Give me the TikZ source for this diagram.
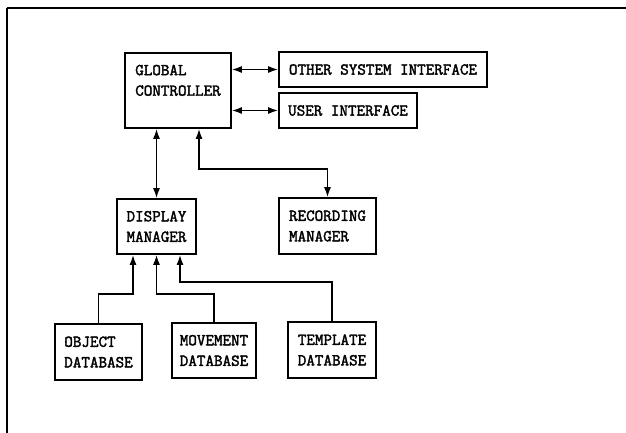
\documentclass[tikz,border=0pt]{standalone}
\usepackage{fontspec}
\setmonofont{Latin Modern Mono}[AutoFakeBold=2.2]
\usetikzlibrary{arrows.meta}
\begin{document}
\begin{tikzpicture}[x=1pt,y=-1pt,line width=1.6pt,
    box/.style={draw,rectangle,inner sep=0pt,align=left,
      font=\ttfamily\bfseries\fontsize{16.6}{20.5}\selectfont},
    >={Latex[length=10pt,width=7pt]}]
  \useasboundingbox (0,0) rectangle (626,433);
  \draw (7,433) -- (7,8);
  \draw (7,8) -- (626,8);
  % blocks
  \node [box,minimum width=106pt,minimum height=75pt] (ctrl) at (178,90.5) {GLOBAL\\CONTROLLER\\ };
  \node [box,minimum width=208pt,minimum height=35pt] (osi) at (383,69.5) {OTHER SYSTEM INTERFACE};
  \node [box,minimum width=138pt,minimum height=35pt] (ui) at (348,110.5) {USER INTERFACE};
  \node [box,minimum width=79pt,minimum height=55pt] (disp) at (156.5,226.5) {DISPLAY\\MANAGER};
  \node [box,minimum width=97pt,minimum height=56pt] (rec) at (327.5,226) {RECORDING\\MANAGER};
  \node [box,minimum width=87pt,minimum height=56pt] (obj) at (98.5,352) {OBJECT\\DATABASE};
  \node [box,minimum width=84pt,minimum height=55pt] (mov) at (214,350.5) {MOVEMENT\\DATABASE};
  \node [box,minimum width=88pt,minimum height=56pt] (tmp) at (332,350) {TEMPLATE\\DATABASE};
  % links
  \draw [<->] (ctrl.east |- osi.west) -- (osi.west);
  \draw [<->] (ctrl.east |- ui.west) -- (ui.west);
  \draw [<->] (disp.north |- ctrl.south) -- (disp.north);
  \draw [<->] ([xshift=21pt]ctrl.south) -- ++(0,40) -| (rec.north);
  \draw [->] (obj.north) -- ++(0,-29) -| ([xshift=-23.5pt]disp.south);
  \draw [->] (mov.north) -- ++(0,-28) -| (disp.south);
  \draw [->] (tmp.north) -- ++(0,-39) -| ([xshift=23.5pt]disp.south);
\end{tikzpicture}
\end{document}
